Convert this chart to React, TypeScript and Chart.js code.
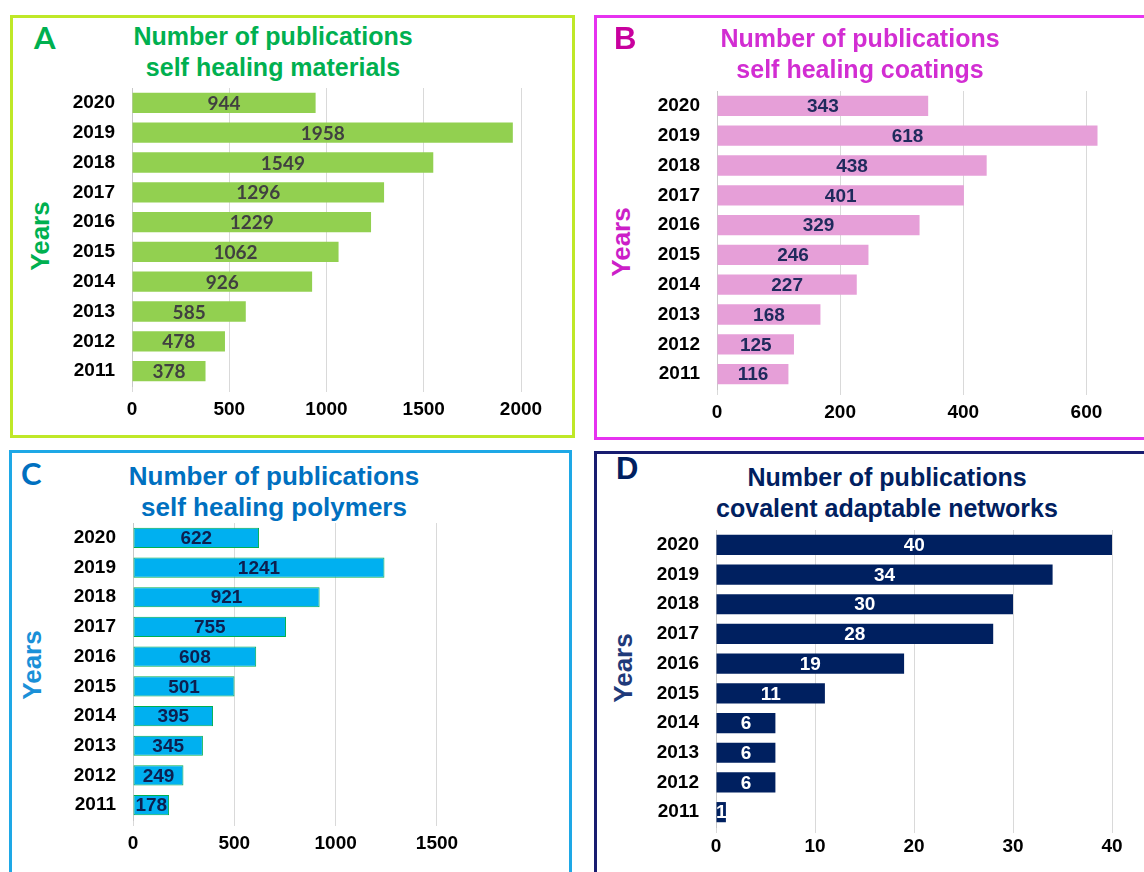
import React, { useEffect, useRef } from 'react';
import { Chart, registerables } from 'chart.js';

Chart.register(...registerables);

// ---------- data ----------
const years = ['2020', '2019', '2018', '2017', '2016', '2015', '2014', '2013', '2012', '2011'];
const materialsCounts = [944, 1958, 1549, 1296, 1229, 1062, 926, 585, 478, 378];
const coatingsCounts = [343, 618, 438, 401, 329, 246, 227, 168, 125, 116];
const polymersCounts = [622, 1241, 921, 755, 608, 501, 395, 345, 249, 178];
const networksCounts = [40, 34, 30, 28, 19, 11, 6, 6, 6, 1];

const ticksMaterials = [0, 500, 1000, 1500, 2000];
const ticksCoatings = [0, 200, 400, 600];
const ticksPolymers = [0, 500, 1000, 1500];
const ticksNetworks = [0, 10, 20, 30, 40];

const titleMaterials = ['Number of publications', 'self healing materials'];
const titleCoatings = ['Number of publications', 'self healing coatings'];
const titlePolymers = ['Number of publications', 'self healing polymers'];
const titleNetworks = ['Number of publications', 'covalent adaptable networks'];

const ARIAL = '"Liberation Sans", Arial, sans-serif';
const CALIBRI = 'Lato, "Open Sans", sans-serif';

const valueLabels = {
  id: 'valueLabels',
  afterDatasetsDraw(chart: any, _args: any, opts: any) {
    const { ctx } = chart;
    const meta = chart.getDatasetMeta(0);
    const ds = chart.data.datasets[0];
    ctx.save();
    ctx.font = opts.font;
    ctx.fillStyle = opts.color;
    ctx.textAlign = 'center';
    ctx.textBaseline = 'middle';
    meta.data.forEach((bar: any, i: number) => {
      const p = bar.getProps(['x', 'y', 'base'], true);
      ctx.fillText(String(ds.data[i]), (p.x + p.base) / 2, p.y + 1);
    });
    ctx.restore();
  },
};

type PanelProps = {
  values: number[];
  tickValues: number[];
  max: number;
  barColor: string;
  barBorder?: string;
  labelColor: string;
  labelFont: string;
  canvas: { left: number; top: number; width: number; height: number };
  area: { left: number; top: number; right: number; bottom: number };
  xTickPad: number;
};

function BarPanel(p: PanelProps) {
  const ref = useRef<HTMLCanvasElement>(null);
  useEffect(() => {
    if (!ref.current) return;
    const c = p.canvas;
    const yW = p.area.left - c.left;
    const xH = c.top + c.height - p.area.bottom;
    const chart = new Chart(ref.current, {
      type: 'bar',
      data: {
        labels: years,
        datasets: [
          {
            data: p.values,
            backgroundColor: p.barColor,
            borderColor: p.barBorder || p.barColor,
            borderWidth: p.barBorder ? 1 : 0,
            borderSkipped: false,
            barPercentage: 0.68,
            categoryPercentage: 1,
          },
        ],
      },
      plugins: [valueLabels],
      options: {
        indexAxis: 'y',
        animation: false,
        responsive: false,
        maintainAspectRatio: false,
        layout: {
          padding: {
            top: p.area.top - c.top,
            right: c.left + c.width - p.area.right,
            left: 0,
            bottom: 0,
          },
        },
        plugins: {
          legend: { display: false },
          tooltip: { enabled: false },
          title: { display: false },
          valueLabels: { font: p.labelFont, color: p.labelColor },
        } as any,
        scales: {
          x: {
            min: 0,
            max: p.max,
            grid: { color: '#d9d9d9', tickColor: '#d9d9d9', tickLength: 6, lineWidth: 1 },
            border: { display: false },
            ticks: {
              color: '#000000',
              font: { family: ARIAL, size: 19, weight: 'bold' },
              padding: p.xTickPad,
              maxRotation: 0,
              callback: (v: any) => String(v),
            },
            afterBuildTicks(axis: any) {
              axis.ticks = p.tickValues.map((v) => ({ value: v }));
            },
            afterFit(scale: any) {
              scale.height = xH;
              scale.paddingLeft = 0;
              scale.paddingRight = 0;
            },
          },
          y: {
            grid: { display: false, drawTicks: false },
            border: { display: true, color: '#c8c8c8', width: 1 },
            ticks: {
              color: '#000000',
              font: { family: ARIAL, size: 19, weight: 'bold' },
              padding: 17,
            },
            afterFit(scale: any) {
              scale.width = yW;
              scale.paddingTop = 0;
              scale.paddingBottom = 0;
            },
          },
        },
      } as any,
    });
    return () => chart.destroy();
  }, []);
  const c = p.canvas;
  return (
    <canvas
      ref={ref}
      width={c.width}
      height={c.height}
      style={{ position: 'absolute', left: c.left, top: c.top, width: c.width, height: c.height }}
    />
  );
}

function Frame(props: { left: number; top: number; width: number; height: number; color: string }) {
  return (
    <div
      style={{
        position: 'absolute',
        left: props.left,
        top: props.top,
        width: props.width,
        height: props.height,
        border: `3px solid ${props.color}`,
        boxSizing: 'border-box',
      }}
    />
  );
}

function Title(props: { lines: string[]; cx: number; top: number; color: string; size: number }) {
  return (
    <div
      style={{
        position: 'absolute',
        left: props.cx - 300,
        top: props.top,
        width: 600,
        textAlign: 'center',
        fontFamily: ARIAL,
        fontWeight: 'bold',
        fontSize: props.size,
        lineHeight: '31px',
        color: props.color,
        whiteSpace: 'nowrap',
      }}
    >
      {props.lines.map((l) => (
        <div key={l}>{l}</div>
      ))}
    </div>
  );
}

function Letter(props: { text: string; x: number; cy: number; color: string; family: string }) {
  return (
    <div
      style={{
        position: 'absolute',
        left: props.x,
        top: props.cy - 18,
        height: 36,
        lineHeight: '36px',
        fontFamily: props.family,
        fontWeight: 'bold',
        fontSize: 31,
        color: props.color,
      }}
    >
      {props.text}
    </div>
  );
}

function YearsLabel(props: { cx: number; cy: number; color: string }) {
  return (
    <div
      style={{
        position: 'absolute',
        left: props.cx,
        top: props.cy,
        transform: 'translate(-50%, -50%) rotate(-90deg)',
        fontFamily: ARIAL,
        fontWeight: 'bold',
        fontSize: 26,
        lineHeight: '30px',
        color: props.color,
        whiteSpace: 'nowrap',
      }}
    >
      Years
    </div>
  );
}

export default function App() {
  return (
    <div
      style={{
        position: 'absolute',
        left: 0,
        top: 0,
        width: 1144,
        height: 872,
        overflow: 'hidden',
        background: '#ffffff',
      }}
    >
      {/* Panel A */}
      <Frame left={10} top={15} width={565} height={423} color="#bfe828" />
      <Letter text="A" x={34} cy={37} color="#00b050" family={CALIBRI} />
      <Title lines={titleMaterials} cx={273} top={21} color="#00b050" size={25} />
      <YearsLabel cx={40} cy={236} color="#00b050" />
      <BarPanel
        values={materialsCounts}
        tickValues={ticksMaterials}
        max={2000}
        barColor="#92d050"
        labelColor="#404040"
        labelFont={`bold 19px ${CALIBRI}`}
        canvas={{ left: 13, top: 80, width: 559, height: 352 }}
        area={{ left: 132, top: 88, right: 521, bottom: 386 }}
        xTickPad={6}
      />

      {/* Panel B */}
      <Frame left={594} top={15} width={570} height={425} color="#e632f0" />
      <Letter text="B" x={614} cy={39} color="#c8009e" family={ARIAL} />
      <Title lines={titleCoatings} cx={860} top={23} color="#d22dd2" size={25} />
      <YearsLabel cx={621} cy={242} color="#cc1fc8" />
      <BarPanel
        values={coatingsCounts}
        tickValues={ticksCoatings}
        max={700}
        barColor="#e69fd8"
        labelColor="#1f2a5c"
        labelFont={`bold 19px ${ARIAL}`}
        canvas={{ left: 597, top: 80, width: 560, height: 354 }}
        area={{ left: 717, top: 91, right: 1148, bottom: 389 }}
        xTickPad={6}
      />

      {/* Panel C */}
      <Frame left={9} top={450} width={563} height={440} color="#1ea8e6" />
      <Letter text="C" x={21} cy={473} color="#0070c0" family={CALIBRI} />
      <Title lines={titlePolymers} cx={274} top={461} color="#0070c0" size={26} />
      <YearsLabel cx={32} cy={665} color="#1a90d8" />
      <BarPanel
        values={polymersCounts}
        tickValues={ticksPolymers}
        max={1900}
        barColor="#00b0f0"
        barBorder="#00b050"
        labelColor="#0d1f4f"
        labelFont={`bold 19px ${ARIAL}`}
        canvas={{ left: 12, top: 515, width: 556, height: 352 }}
        area={{ left: 133, top: 523, right: 518, bottom: 820 }}
        xTickPad={6}
      />

      {/* Panel D */}
      <Frame left={594} top={451} width={570} height={440} color="#181c70" />
      <Letter text="D" x={616} cy={469} color="#002060" family={ARIAL} />
      <Title lines={titleNetworks} cx={887} top={462} color="#002060" size={25} />
      <YearsLabel cx={623} cy={668} color="#1f3a7a" />
      <BarPanel
        values={networksCounts}
        tickValues={ticksNetworks}
        max={40}
        barColor="#002060"
        labelColor="#ffffff"
        labelFont={`bold 19px ${ARIAL}`}
        canvas={{ left: 597, top: 520, width: 560, height: 350 }}
        area={{ left: 716, top: 530, right: 1112, bottom: 827 }}
        xTickPad={2}
      />
    </div>
  );
}
